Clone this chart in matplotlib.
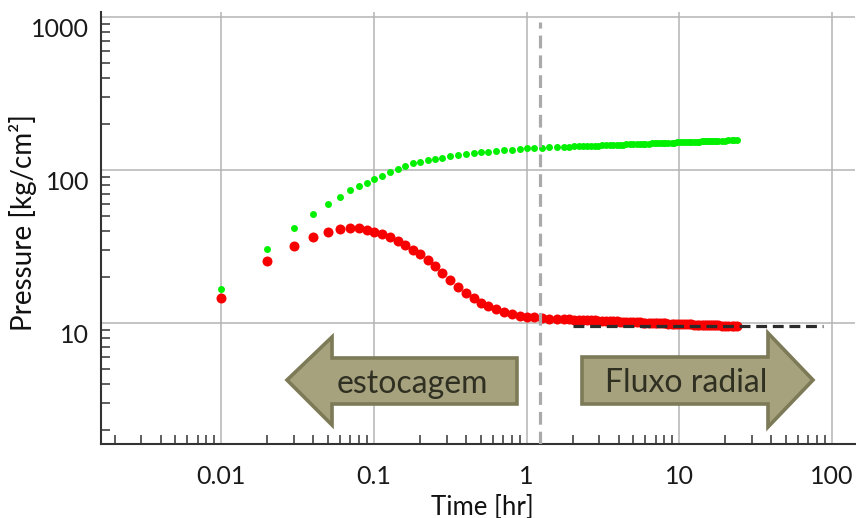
import matplotlib
matplotlib.use("Agg")
import matplotlib.pyplot as plt
from matplotlib.patches import Polygon
from matplotlib.ticker import FixedLocator, FixedFormatter, LogLocator, NullFormatter
from matplotlib.transforms import ScaledTranslation

plt.rcParams['font.family'] = ['Lato', 'DejaVu Sans']

# Elapsed time since shut-in [hr]
time_hr = [0.01, 0.02, 0.03, 0.04, 0.05, 0.06, 0.07, 0.08, 0.09, 0.10,
           0.113, 0.127, 0.143, 0.16, 0.18, 0.2, 0.225, 0.25, 0.28, 0.315,
           0.355, 0.4, 0.45, 0.5, 0.56, 0.63, 0.71, 0.8, 0.9, 1.0,
           1.12, 1.26, 1.41, 1.58, 1.75, 1.9, 2.05, 2.2, 2.35, 2.5,
           2.65, 2.8, 2.95, 3.1, 3.3, 3.5, 3.7, 3.9, 4.1, 4.3,
           4.5, 4.75, 5.0, 5.25, 5.5, 5.75, 6.0, 6.3, 6.6, 6.9,
           7.2, 7.5, 7.8, 8.1, 8.5, 8.9, 9.3, 9.7, 10.1, 10.5,
           11.0, 11.5, 12.0, 12.5, 13.0, 13.5, 14.0, 14.5, 15.0, 15.5,
           16.0, 16.5, 17.0, 17.5, 18.0, 19.0, 20.0, 21.0, 22.0, 23.0,
           24.0]

# Pressure change [kg/cm2]
delta_p = [16.7, 30.3, 41.6, 51.3, 59.7, 67.0, 74.0, 78.9, 82.6, 87.2,
           92.0, 97.0, 101.5, 106.0, 110.5, 113.0, 115.5, 118.0, 120.5, 123.0,
           125.2, 127.3, 129.0, 130.5, 131.8, 133.0, 134.4, 135.7, 137.0, 138.6,
           139.4, 140.0, 140.6, 141.2, 141.75, 142.2, 142.6, 143.0, 143.4, 143.7,
           144.1, 144.4, 144.7, 144.9, 145.3, 145.6, 146.0, 146.3, 146.5, 146.8,
           147.1, 147.4, 147.7, 148.0, 148.2, 148.5, 148.7, 149.0, 149.3, 149.5,
           149.8, 150.0, 150.3, 150.5, 150.8, 151.0, 151.3, 151.5, 151.8, 152.0,
           152.3, 152.5, 152.8, 153.0, 153.3, 153.5, 153.7, 153.9, 154.1, 154.3,
           154.5, 154.7, 154.9, 155.0, 155.2, 155.5, 155.9, 156.2, 156.4, 156.7,
           157.0]

# Pressure derivative [kg/cm2]
derivative = [14.6, 25.3, 32.0, 36.3, 39.2, 41.0, 41.6, 41.6, 40.8, 39.5,
              38.1, 36.3, 34.2, 32.2, 30.0, 28.2, 25.8, 23.7, 21.4, 19.2,
              17.3, 15.8, 14.6, 13.6, 12.9, 12.3, 11.8, 11.45, 11.2, 11.0,
              10.9, 10.8, 10.7, 10.65, 10.61, 10.57, 10.53, 10.50, 10.47, 10.45,
              10.42, 10.40, 10.37, 10.35, 10.32, 10.30, 10.27, 10.25, 10.23, 10.21,
              10.19, 10.17, 10.14, 10.12, 10.10, 10.08, 10.07, 10.04, 10.03, 10.01,
              9.99, 9.97, 9.95, 9.94, 9.92, 9.90, 9.88, 9.86, 9.85, 9.83,
              9.82, 9.80, 9.79, 9.77, 9.76, 9.75, 9.73, 9.72, 9.71, 9.70,
              9.69, 9.68, 9.67, 9.66, 9.65, 9.63, 9.61, 9.60, 9.58, 9.56,
              9.55]

# Radial-flow stabilisation level and end of wellbore storage
radial_level = 9.55
radial_span = [2.0, 88.0]
storage_end = 1.22

x_ticks = [0.01, 0.1, 1, 10, 100]
x_tick_labels = ['0.01', '0.1', '1', '10', '100']
y_ticks = [10, 100, 1000]
y_tick_labels = ['10', '100', '1000']

fig = plt.figure(figsize=(8.56, 5.18), dpi=100)
ax = fig.add_axes([101 / 856, 1 - 444 / 518, 754 / 856, 432 / 518])
ax.set_xscale('log')
ax.set_yscale('log')
ax.set_xlim(0.00163, 141.6)
ax.set_ylim(1.62, 1079)

ax.grid(True, which='major', color='#b4b4b4', linewidth=1.1, zorder=0)
ax.set_axisbelow(True)

ax.plot(time_hr, delta_p, linestyle='none', marker='o', markersize=5.0,
        markerfacecolor='#00f000', markeredgewidth=0, zorder=3)
ax.plot(time_hr, derivative, linestyle='none', marker='o', markersize=7.2,
        markerfacecolor='#f80000', markeredgewidth=0, zorder=3)

ax.plot(radial_span, [radial_level, radial_level], color='#2b2b2b',
        linewidth=2.3, dashes=(3.4, 1.8), zorder=5)
ax.axvline(storage_end, ymin=0, ymax=0.977, color='#aaaaaa',
           linewidth=2.3, dashes=(4.0, 2.2), zorder=5)

# Flow-regime arrows (axes-fraction geometry)
fill_c = '#a6a27e'
edge_c = '#7d7a58'
left_arrow = [(0.2467, 0.1481), (0.3064, 0.2477), (0.3064, 0.1991),
              (0.5517, 0.1991), (0.5517, 0.0926), (0.3064, 0.0926),
              (0.3064, 0.0440)]
right_arrow = [(0.6379, 0.2014), (0.6379, 0.0926), (0.8846, 0.0926),
               (0.8846, 0.0394), (0.9443, 0.1481), (0.8846, 0.2569),
               (0.8846, 0.2014)]
for pts in (left_arrow, right_arrow):
    ax.add_patch(Polygon(pts, closed=True, transform=ax.transAxes,
                         facecolor=fill_c, edgecolor=edge_c, linewidth=2.6,
                         joinstyle='miter', zorder=6))
ax.text(0.4125, 0.1181, 'estocagem', transform=ax.transAxes, ha='center',
        va='baseline', fontsize=23, color='#2f2f22', zorder=7)
ax.text(0.7759, 0.1204, 'Fluxo radial', transform=ax.transAxes, ha='center',
        va='baseline', fontsize=23, color='#2f2f22', zorder=7)

# Axes styling
for side in ('top', 'right'):
    ax.spines[side].set_visible(False)
for side in ('left', 'bottom'):
    ax.spines[side].set_color('#333333')
    ax.spines[side].set_linewidth(1.5)

ax.xaxis.set_major_locator(FixedLocator(x_ticks))
ax.xaxis.set_major_formatter(FixedFormatter(x_tick_labels))
ax.yaxis.set_major_locator(FixedLocator(y_ticks))
ax.yaxis.set_major_formatter(FixedFormatter(y_tick_labels))
ax.xaxis.set_minor_locator(LogLocator(base=10, subs=range(2, 10), numticks=20))
ax.yaxis.set_minor_locator(LogLocator(base=10, subs=range(2, 10), numticks=20))
ax.xaxis.set_minor_formatter(NullFormatter())
ax.yaxis.set_minor_formatter(NullFormatter())

ax.tick_params(which='major', length=0, labelsize=18, labelcolor='#1a1a1a')
ax.tick_params(axis='x', which='major', pad=15)
ax.tick_params(axis='y', which='major', pad=8.6)
ax.tick_params(which='minor', direction='in', length=6.5, width=1.1,
               color='#333333')

shift = ScaledTranslation(0, -0.10, fig.dpi_scale_trans)
for lbl in ax.get_yticklabels():
    lbl.set_transform(lbl.get_transform() + shift)

ax.set_xlabel('Time [hr]', fontsize=18.5, color='#111111', va='center')
ax.xaxis.set_label_coords(0.5053, -0.146)
ax.set_ylabel('Pressure [kg/cm²]', fontsize=20, color='#111111', va='center')
ax.yaxis.set_label_coords(-0.1034, 0.5116)

fig.savefig('out.png', dpi=100)
